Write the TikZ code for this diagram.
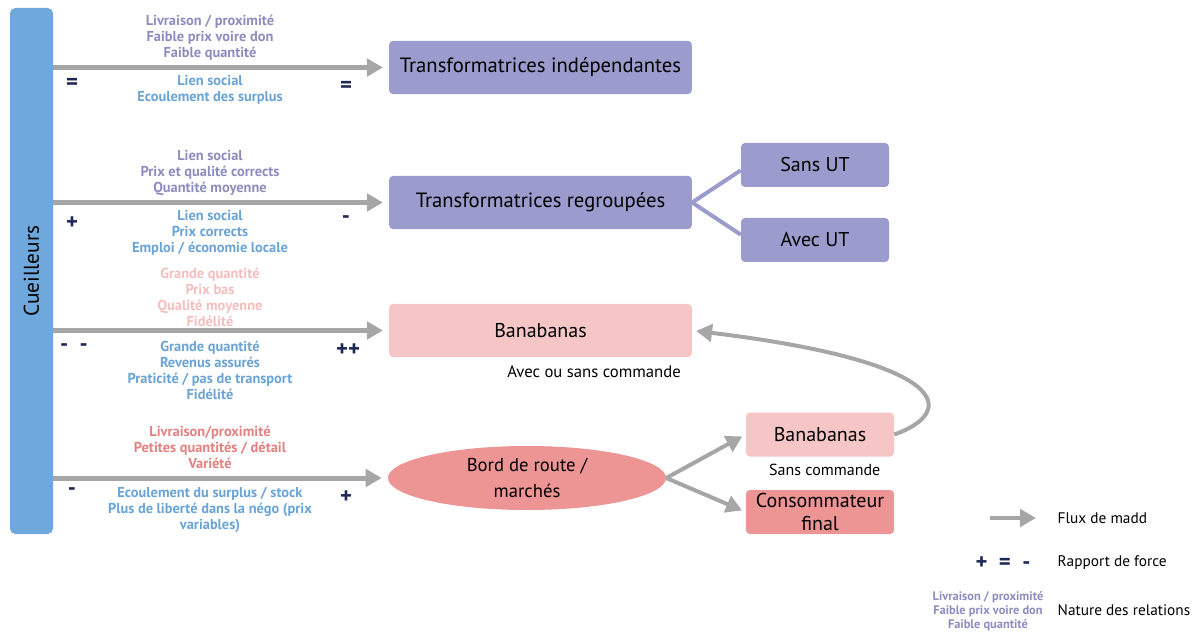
\documentclass[tikz,border=0pt]{standalone}
\usepackage{fontspec}
\setmainfont{PT Sans}
\usetikzlibrary{arrows.meta,positioning,shapes.geometric}

\definecolor{cueilblue}{RGB}{111,168,221}
\definecolor{mauve}{RGB}{155,155,206}
\definecolor{mauvetext}{RGB}{140,140,190}
\definecolor{bluetext}{RGB}{106,163,214}
\definecolor{rosepale}{RGB}{246,198,199}
\definecolor{rosetext}{RGB}{244,190,190}
\definecolor{saumon}{RGB}{237,148,148}
\definecolor{saumontext}{RGB}{228,128,128}
\definecolor{fluxgray}{RGB}{166,166,166}
\definecolor{navy}{RGB}{30,40,85}

\tikzset{
  box/.style={fill=mauve, rounded corners=3pt, minimum width=227pt, minimum height=40pt,
    inner sep=0pt, font=\fontsize{15.5}{18}\selectfont},
  subbox/.style={box, minimum width=111pt, minimum height=33pt, align=center,
    font=\fontsize{15}{16}\selectfont},
  flux/.style={draw=fluxgray, line width=3.75pt, -{Triangle[length=12pt,width=13pt]}},
  branch/.style={draw=mauve, line width=3pt},
  rel/.style={font=\fontsize{10.8}{12}\selectfont\bfseries, align=center},
  note/.style={font=\fontsize{11.5}{13}\selectfont},
  force/.style={font=\fontsize{17}{17}\selectfont\bfseries, text=navy},
}

\begin{document}
\begin{tikzpicture}[x=0.75pt, y=-0.75pt]
\useasboundingbox (0,0) rectangle (1195,634);

% Define nodes
\node[fill=cueilblue, rounded corners=4pt, minimum width=32.25pt, minimum height=394.5pt,
  inner sep=0pt, font=\fontsize{16}{16}\selectfont] (cueil) at (31.5,271) {\rotatebox{90}{Cueilleurs}};

\node[box] (tind) at (540.5,67.5) {Transformatrices indépendantes};
\node[box] (treg) at (540.5,202.5) {Transformatrices regroupées};
\node[subbox] (sans) at (815,165) {Sans UT};
\node[subbox] (avec) at (815,240) {Avec UT};
\node[box, fill=rosepale, font=\fontsize{15}{18}\selectfont] (bana) at (540.5,330.5) {Banabanas};
\node[note, font=\fontsize{12.5}{14}\selectfont, below left=3pt and 5pt of bana.south east] (banacmd) {Avec ou sans commande};
\node[ellipse, fill=saumon, minimum width=208.5pt, minimum height=48pt, inner sep=0pt,
  align=center, font=\fontsize{14}{20}\selectfont] (bord) at (527,478) {Bord de route /\\marchés};
\node[subbox, fill=rosepale] (bana2) at (820,434.5) {Banabanas};
\node[note, font=\fontsize{12}{14}\selectfont, below left=2pt and 7pt of bana2.south east] (bana2cmd) {Sans commande};
\node[subbox, fill=saumon, font=\fontsize{15}{17}\selectfont] (conso) at (820,512) {Consommateur\\final};

% Connect the nodes
\draw[flux, shorten >=4.5pt] (cueil.east |- tind) -- (tind.west);
\draw[flux, shorten >=4.5pt] (cueil.east |- treg) -- (treg.west);
\draw[flux, shorten >=4.5pt] (cueil.east |- bana) -- (bana.west);
\draw[flux, shorten >=4.5pt] (cueil.east |- bord) -- (bord.west);
\draw[branch] (treg.east) -- ([yshift=-4pt]sans.west);
\draw[branch] (treg.east) -- ([yshift=4pt]avec.west);
\draw[flux, line width=3pt, shorten >=3pt] (bord.east) -- (bana2.west);
\draw[flux, line width=3pt, shorten >=3pt] (bord.east) -- (conso.west);
\draw[flux, line width=3pt, shorten >=3pt] (bana2.east) .. controls (958,412) and (952,362) .. (bana.east);

% Relations
\node[rel, text=mauvetext] (r1a) at (210,38) {Livraison / proximité\\Faible prix voire don\\Faible quantité};
\node[rel, text=bluetext] (r1b) at (210,90) {Lien social\\Ecoulement des surplus};
\node[rel, text=mauvetext] (r2a) at (210,173) {Lien social\\Prix et qualité corrects\\Quantité moyenne};
\node[rel, text=bluetext] (r2b) at (210,233) {Lien social\\Prix corrects\\Emploi / économie locale};
\node[rel, text=rosetext] (r3a) at (210,297) {Grande quantité\\Prix bas\\Qualité moyenne\\Fidélité};
\node[rel, text=bluetext] (r3b) at (210,370) {Grande quantité\\Revenus assurés\\Praticité / pas de transport\\Fidélité};
\node[rel, text=saumontext] (r4a) at (210,447) {Livraison/proximité\\Petites quantités / détail\\Variété};
\node[rel, text=bluetext] (r4b) at (210,510) {Ecoulement du surplus / stock\\Plus de liberté dans la négo (prix\\variables)};

% Rapport de force
\node[force] (f1a) at (72,84) {=};
\node[force] (f1b) at (346,87) {=};
\node[force] (f2a) at (72,223) {+};
\node[force] (f2b) at (346,220) {-};
\node[force] (f3a) at (74,348) {-\ \ -};
\node[force] (f3b) at (348,350) {++};
\node[force] (f4a) at (72,492) {-};
\node[force] (f4b) at (346,497) {+};

% Legend
\coordinate (lgs) at (990,518);
\coordinate (lge) at (1036,518);
\draw[flux, line width=3pt] (lgs) -- (lge);
\node[note, anchor=west] (lgflux) at (1053,518) {Flux de madd};
\node[force] (lgforce) at (1003,563) {+\ \ =\ \ -};
\node[note, anchor=west] (lgrap) at (1053,563) {Rapport de force};
\node[rel, text=mauvetext, font=\fontsize{9.3}{10.5}\selectfont\bfseries] (lgrel) at (988,611)
  {Livraison / proximité\\Faible prix voire don\\Faible quantité};
\node[note, anchor=west] (lgnat) at (1053,610) {Nature des relations};

\end{tikzpicture}
\end{document}
